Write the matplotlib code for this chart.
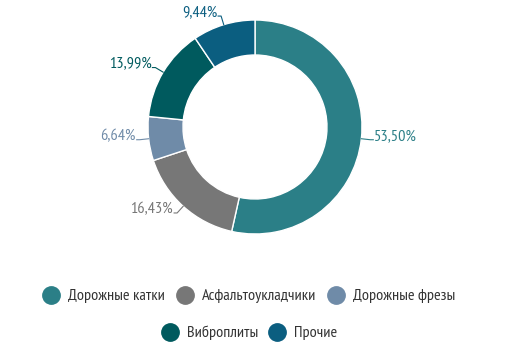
import numpy as np
import matplotlib.pyplot as plt
from matplotlib.lines import Line2D
from matplotlib import font_manager

categories = ['Дорожные катки', 'Асфальтоукладчики', 'Дорожные фрезы', 'Виброплиты', 'Прочие']
shares = [53.50, 16.43, 6.64, 13.99, 9.44]
labels = ['53,50%', '16,43%', '6,64%', '13,99%', '9,44%']
colors = ['#2b7f87', '#777777', '#6f8ba8', '#005a5e', '#0b5e80']

names = {f.name for f in font_manager.fontManager.ttflist}
family = 'DejaVu Sans'
for cand in ['Ubuntu Condensed', 'PT Sans Narrow', 'Fira Sans Condensed',
             'Roboto Condensed', 'Open Sans Condensed', 'Liberation Sans Narrow']:
    if cand in names:
        family = cand
        break
plt.rcParams['font.family'] = [family, 'DejaVu Sans']
if family == 'DejaVu Sans':
    plt.rcParams['font.stretch'] = 'condensed'

W, H = 512, 354
fig = plt.figure(figsize=(W / 100, H / 100), dpi=100)
ax = fig.add_axes([0, 0, 1, 1])

cx, cy, r = 255, 227, 107
ax.pie(shares, colors=colors, startangle=90, counterclock=False,
       center=(cx, cy), radius=r, frame=True,
       wedgeprops=dict(width=35, edgecolor='white', linewidth=1))
ax.set_xlim(0, W)
ax.set_ylim(0, H)
ax.set_aspect('equal')
ax.axis('off')

# labels with short leader lines
cum = np.cumsum([0] + shares[:-1])
for s, c0, lab, col in zip(shares, cum, labels, colors):
    mid = np.deg2rad((c0 + s / 2) / sum(shares) * 360)
    dx, dy = np.sin(mid), np.cos(mid)
    x0, y0 = cx + r * dx, cy + r * dy
    x1, y1 = cx + (r + 9) * dx, cy + (r + 9) * dy
    side = 1 if dx >= 0 else -1
    x2 = x1 + side * 3
    ax.plot([x0, x1, x2], [y0, y1, y1], color=col, lw=0.8)
    ax.text(x2 + side * 1, y1 + 4, lab, color=col, fontsize=11.7,
            ha='left' if side > 0 else 'right', va='center')

def make_handles(idx):
    return [Line2D([], [], marker='o', linestyle='none', markersize=12.5,
                   markerfacecolor=colors[i], markeredgecolor=colors[i]) for i in idx]

fig.legend(make_handles([0, 1, 2]), categories[:3], loc='center',
           bbox_to_anchor=(0.485, 1 - 296 / H), ncol=3, frameon=False,
           fontsize=11.7, handlelength=1.2, handletextpad=0.45,
           columnspacing=0.6, labelcolor='#333333')
fig.legend(make_handles([3, 4]), categories[3:], loc='center',
           bbox_to_anchor=(0.485, 1 - 333 / H), ncol=2, frameon=False,
           fontsize=11.7, handlelength=1.2, handletextpad=0.45,
           columnspacing=0.55, labelcolor='#333333')

fig.savefig('out.png', dpi=100)
